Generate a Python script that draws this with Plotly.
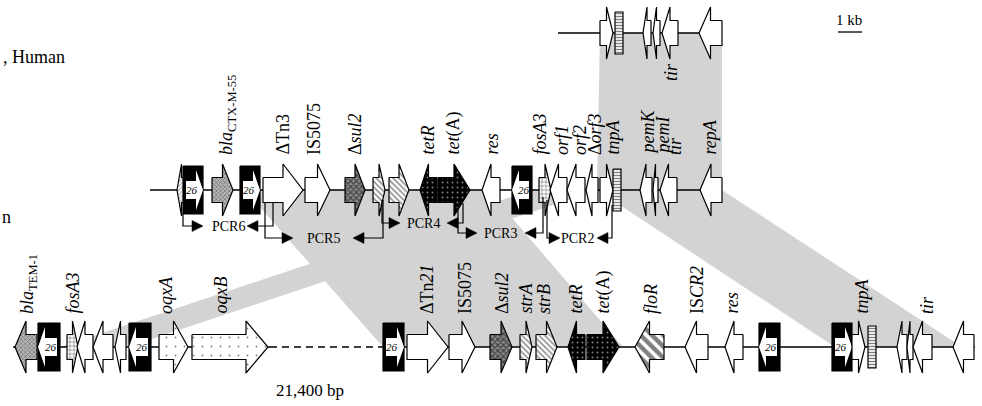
import plotly.graph_objects as go

# ---------------- data ----------------
TRACK_Y = {"top": 33, "mid": 190, "bot": 347}

# backbone segments: track, start, end, dashed
BB_TRACK = ["top", "mid", "bot", "bot", "bot"]
BB_START = [558, 150, 13, 270, 383]
BB_END = [722, 722, 270, 383, 975]
BB_DASH = [False, False, False, True, False]

# genes per track: start, end, strand (+1 right, -1 left, 0 box), kind
TOP_START = [600, 615, 643, 653, 662, 699]
TOP_END = [613, 623, 651, 660, 678, 722]
TOP_STRAND = [1, 0, -1, -1, -1, -1]
TOP_KIND = ["white", "ir", "white", "white", "white", "white"]

MID_START = [177, 183, 212, 240, 263, 305, 345, 373, 389, 420, 438, 482, 512, 539, 550, 567, 586, 600, 613, 640, 653, 660, 700]
MID_END = [186, 203, 233, 260, 303, 330, 365, 385, 409, 437, 470, 500, 532, 551, 567, 585, 598, 613, 621, 652, 658, 677, 722]
MID_STRAND = [-1, 1, 1, 1, 1, 1, 1, 1, 1, -1, 1, -1, -1, 1, -1, -1, -1, 1, 0, -1, -1, -1, -1]
MID_KIND = ["hatch", "is26", "bla", "is26", "white", "white", "sul", "str", "str", "tet", "tet", "white", "is26",
            "fos", "white", "white", "white", "white", "ir", "white", "white", "white", "white"]

BOT_START = [15, 38, 67, 77, 93, 115, 129, 159, 192, 383, 407, 449, 490, 520, 536, 568, 587, 635, 685, 725, 759,
             832, 852, 868, 897, 907, 913, 953]
BOT_END = [37, 60, 78, 93, 113, 126, 151, 188, 268, 404, 448, 475, 512, 532, 557, 585, 619, 664, 708, 743, 780,
           852, 865, 876, 907, 913, 932, 974]
BOT_STRAND = [-1, -1, 1, -1, -1, -1, -1, 1, 1, 1, 1, 1, 1, 1, 1, -1, 1, -1, -1, -1, -1, 1, 1, 0, -1, -1, -1, -1]
BOT_KIND = ["bla", "is26", "fos", "white", "white", "white", "is26", "oqx", "oqx", "is26", "white", "white", "sul",
            "str", "str", "tet", "tet", "flo", "white", "white", "is26", "is26", "white", "ir", "white", "white",
            "white", "white"]

# gene labels
TOP_LABELS = ["<i>tir</i>"]
TOP_LABEL_X = [671]
MID_LABELS = ["<i>bla</i><sub>CTX-M-55</sub>", "ΔTn3", "IS5075", "Δ<i>sul2</i>", "<i>tetR</i>", "<i>tet</i>(A)",
              "<i>res</i>", "<i>fosA3</i>", "<i>orf1</i>", "<i>orf2</i>", "Δ<i>orf3</i>", "<i>tnpA</i>",
              "<i>pemK</i>", "<i>pemI</i>", "<i>tir</i>", "<i>repA</i>"]
MID_LABEL_X = [227, 282, 314, 355, 427, 453, 491, 539, 562, 580, 595, 612, 647, 662, 675, 709]
BOT_LABELS = ["<i>bla</i><sub>TEM-1</sub>", "<i>fosA3</i>", "<i>oqxA</i>", "<i>oqxB</i>", "ΔTn<i>21</i>", "IS5075",
              "Δ<i>sul2</i>", "<i>strA</i>", "<i>strB</i>", "<i>tetR</i>", "<i>tet</i>(A)", "<i>floR</i>",
              "IS<i>CR2</i>", "<i>res</i>", "<i>tnpA</i>", "<i>tir</i>"]
BOT_LABEL_X = [28, 72, 166, 220, 427, 465, 502, 525, 544, 575, 603, 651, 697, 731, 861, 927]

# homology links: from track x0-x1 to track x0-x1
LINK_FROM = ["top", "mid", "mid", "mid"]
LINK_FROM_X0 = [600, 245, 597, 532]
LINK_FROM_X1 = [722, 488, 722, 598]
LINK_TO = ["mid", "bot", "bot", "bot"]
LINK_TO_X0 = [597, 383, 835, 60]
LINK_TO_X1 = [722, 623, 962, 128]

# PCR amplicons
PCR_NAME = ["PCR6", "PCR5", "PCR4", "PCR3", "PCR2"]
PCR_XL = [183, 265, 382, 458, 547]
PCR_XR = [273, 383, 463, 543, 612]
PCR_Y = [226, 238, 223, 233, 238]
PCR_LTOP = [213, 202, 200, 207, 200]
PCR_RTOP = [202, 200, 203, 197, 205]
PCR_LTIP = [203, 293, 400, 477, 560]
PCR_RTIP = [247, 353, 447, 525, 597]
PCR_TEXT_X = [228, 323, 423, 500, 577]

# ---------------- styles ----------------
SERIF = "Liberation Serif"
GRAY = "#d3d3d3"
BODY_H = 12.5
HEAD_H = 26
IS_H = 24

STYLE = {
    "white": dict(fillcolor="white"),
    "bla": dict(fillcolor="#aaaaaa", fillpattern=dict(shape="x", fgcolor="#333333", bgcolor="#b8b8b8", size=3, solidity=0.45)),
    "sul": dict(fillcolor="#555555", fillpattern=dict(shape="x", fgcolor="#000000", bgcolor="#8a8a8a", size=4, solidity=0.55)),
    "str": dict(fillcolor="#999999", fillpattern=dict(shape="\\", fgcolor="#222222", bgcolor="white", size=4, solidity=0.4)),
    "tet": dict(fillcolor="black", fillpattern=dict(shape=".", fgcolor="white", bgcolor="black", size=5, solidity=0.12)),
    "oqx": dict(fillcolor="white", fillpattern=dict(shape=".", fgcolor="black", bgcolor="white", size=9, solidity=0.03)),
    "fos": dict(fillcolor="white", fillpattern=dict(shape="+", fgcolor="black", bgcolor="white", size=4, solidity=0.3)),
    "flo": dict(fillcolor="#555555", fillpattern=dict(shape="\\", fgcolor="black", bgcolor="white", size=8, solidity=0.55)),
    "ir": dict(fillcolor="white", fillpattern=dict(shape="-", fgcolor="black", bgcolor="white", size=3, solidity=0.45)),
    "hatch": dict(fillcolor="white", fillpattern=dict(shape="/", fgcolor="#444444", bgcolor="white", size=3, solidity=0.3)),
}

fig = go.Figure()
annotations = []


def poly(xs, ys, line_w=1.2, line_c="black", **kw):
    fig.add_trace(go.Scatter(x=xs, y=ys, mode="lines", fill="toself", line=dict(color=line_c, width=line_w),
                             hoverinfo="skip", showlegend=False, **kw))


def arrow_pts(a, b, s, c, bh, hh, hl):
    L = min(hl, 0.5 * (b - a))
    if s >= 0:
        xs = [a, b - L, b - L, b, b - L, b - L, a, a]
    else:
        xs = [b, a + L, a + L, a, a + L, a + L, b, b]
    ys = [c - bh, c - bh, c - hh, c, c + hh, c + bh, c + bh, c - bh]
    return xs, ys


# links (background)
for tf, fx0, fx1, tt, tx0, tx1 in zip(LINK_FROM, LINK_FROM_X0, LINK_FROM_X1, LINK_TO, LINK_TO_X0, LINK_TO_X1):
    yf, yt = TRACK_Y[tf], TRACK_Y[tt]
    poly([fx0, fx1, tx1, tx0, fx0], [yf, yf, yt, yt, yf], line_w=0, line_c=GRAY, fillcolor=GRAY)

# backbones
for tr, a, b, d in zip(BB_TRACK, BB_START, BB_END, BB_DASH):
    y = TRACK_Y[tr]
    fig.add_trace(go.Scatter(x=[a, b], y=[y, y], mode="lines",
                             line=dict(color="black", width=1.6, dash="7px,5px" if d else "solid"),
                             hoverinfo="skip", showlegend=False))


def draw_track(track, starts, ends, strands, kinds):
    c = TRACK_Y[track]
    for a, b, s, k in zip(starts, ends, strands, kinds):
        if k == "is26":
            poly([a, b, b, a, a], [c - IS_H, c - IS_H, c + IS_H, c + IS_H, c - IS_H], fillcolor="black")
            if s >= 0:
                xs, ys = arrow_pts(a + 3, b, s, c, 9, 20, 7)
            else:
                xs, ys = arrow_pts(a, b - 3, s, c, 9, 20, 7)
            poly(xs, ys, line_w=0, line_c="white", fillcolor="white")
            annotations.append(dict(x=(a + b) / 2 - 1.5 * s, y=c, text="<i>26</i>", showarrow=False,
                                    font=dict(family=SERIF, size=11, color="black"), xanchor="center", yanchor="middle"))
        elif k == "ir":
            h = 21
            poly([a, b, b, a, a], [c - h, c - h, c + h, c + h, c - h], **STYLE[k])
        else:
            xs, ys = arrow_pts(a, b, s, c, BODY_H, HEAD_H, 22)
            poly(xs, ys, **STYLE[k])


draw_track("top", TOP_START, TOP_END, TOP_STRAND, TOP_KIND)
draw_track("mid", MID_START, MID_END, MID_STRAND, MID_KIND)
draw_track("bot", BOT_START, BOT_END, BOT_STRAND, BOT_KIND)

# PCR brackets
AH_L, AH_H = 11, 5.5
for n, xl, xr, y, lt, rt, ltip, rtip, tx in zip(PCR_NAME, PCR_XL, PCR_XR, PCR_Y, PCR_LTOP, PCR_RTOP, PCR_LTIP,
                                                PCR_RTIP, PCR_TEXT_X):
    fig.add_trace(go.Scatter(x=[xl, xl, ltip - AH_L], y=[lt, y, y], mode="lines", line=dict(color="black", width=1.2),
                             hoverinfo="skip", showlegend=False))
    fig.add_trace(go.Scatter(x=[xr, xr, rtip + AH_L], y=[rt, y, y], mode="lines", line=dict(color="black", width=1.2),
                             hoverinfo="skip", showlegend=False))
    poly([ltip - AH_L, ltip, ltip - AH_L, ltip - AH_L], [y - AH_H, y, y + AH_H, y - AH_H], line_w=0.5, fillcolor="black")
    poly([rtip + AH_L, rtip, rtip + AH_L, rtip + AH_L], [y - AH_H, y, y + AH_H, y - AH_H], line_w=0.5, fillcolor="black")
    annotations.append(dict(x=tx, y=y, text=n, showarrow=False, font=dict(family=SERIF, size=14, color="black"),
                            xanchor="center", yanchor="middle"))

# gene labels
for t, x in zip(MID_LABELS, MID_LABEL_X):
    annotations.append(dict(x=x, y=157, text=t, textangle=-90, showarrow=False, xanchor="center", yanchor="bottom",
                            font=dict(family=SERIF, size=18, color="black")))
for t, x in zip(BOT_LABELS, BOT_LABEL_X):
    annotations.append(dict(x=x, y=316, text=t, textangle=-90, showarrow=False, xanchor="center", yanchor="bottom",
                            font=dict(family=SERIF, size=18, color="black")))
for t, x in zip(TOP_LABELS, TOP_LABEL_X):
    annotations.append(dict(x=x, y=61, text=t, textangle=-90, showarrow=False, xanchor="center", yanchor="top",
                            font=dict(family=SERIF, size=18, color="black")))

# other texts (fragments of labels at the left edge)
annotations.append(dict(x=1, y=57, text=", Human", showarrow=False, xanchor="left", yanchor="middle",
                        font=dict(family=SERIF, size=18, color="black")))
annotations.append(dict(x=0, y=217, text="n", showarrow=False, xanchor="left", yanchor="middle",
                        font=dict(family=SERIF, size=18, color="black")))
annotations.append(dict(x=310, y=390, text="21,400 bp", showarrow=False, xanchor="center", yanchor="middle",
                        font=dict(family=SERIF, size=17, color="black")))
annotations.append(dict(x=849, y=20, text="1 kb", showarrow=False, xanchor="center", yanchor="middle",
                        font=dict(family=SERIF, size=15, color="black")))
fig.add_trace(go.Scatter(x=[838, 862], y=[32, 32], mode="lines", line=dict(color="black", width=1.3),
                         hoverinfo="skip", showlegend=False))

fig.update_layout(
    width=982, height=406, margin=dict(l=0, r=0, t=0, b=0),
    paper_bgcolor="white", plot_bgcolor="white",
    xaxis=dict(range=[0, 982], visible=False, fixedrange=True),
    yaxis=dict(range=[406, 0], visible=False, fixedrange=True),
    annotations=annotations, showlegend=False,
)

fig.write_html("out.html", config={"displayModeBar": False, "staticPlot": True},
               post_script="document.body.style.margin='0';document.body.style.overflow='hidden';")
